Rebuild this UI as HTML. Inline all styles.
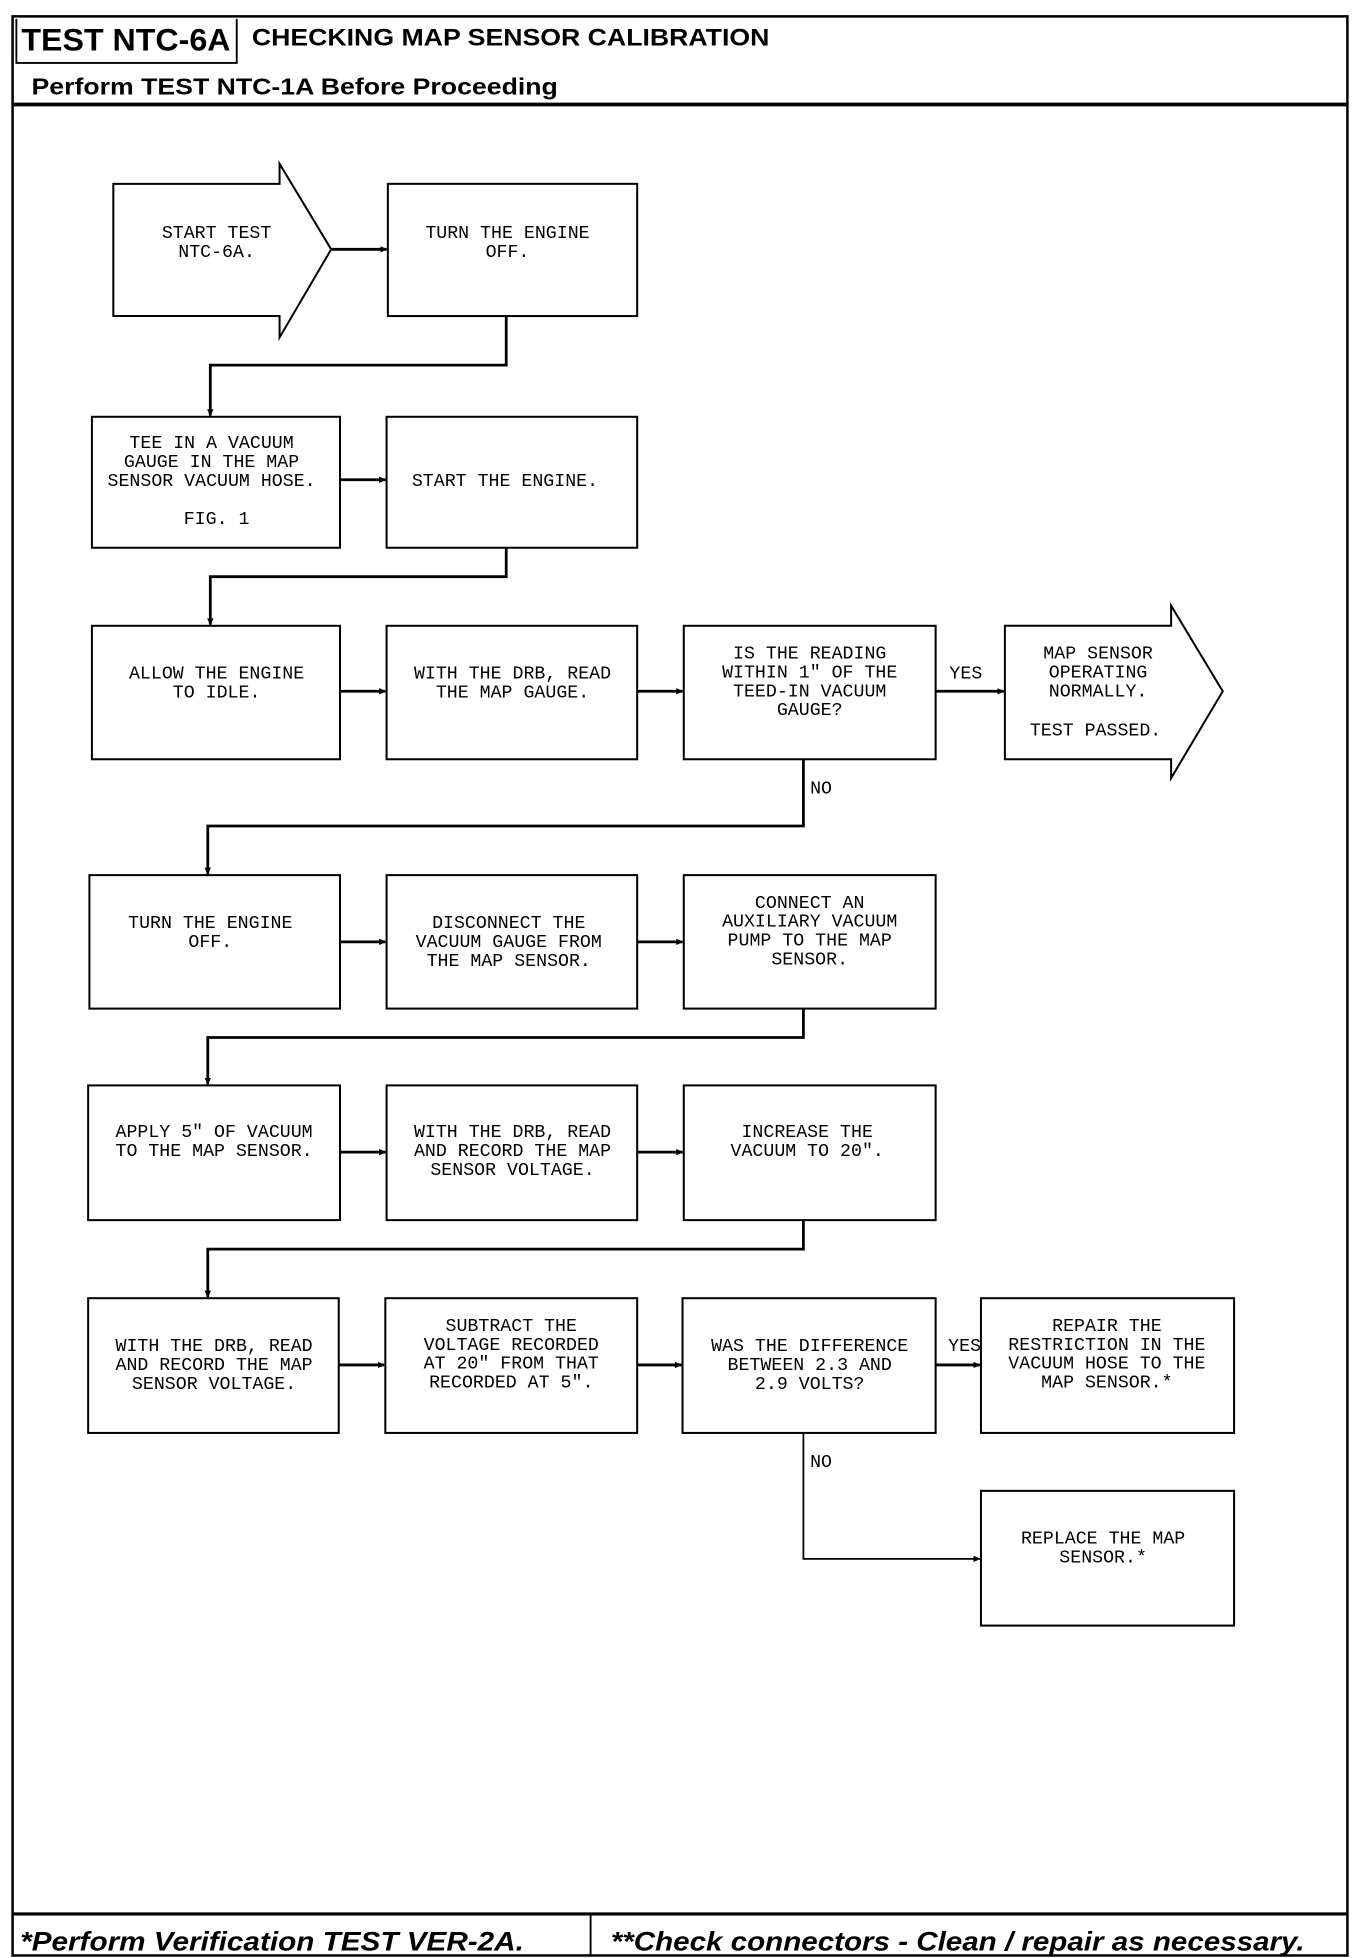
<!DOCTYPE html>
<html><head><meta charset="utf-8"><style>html,body{margin:0;padding:0;background:#fff}svg{display:block}</style></head><body>
<svg width="1360" height="1958" viewBox="0 0 1080 1555" preserveAspectRatio="none" xmlns="http://www.w3.org/2000/svg">
<defs><marker id="a" markerWidth="6" markerHeight="6" refX="5" refY="3" orient="auto" markerUnits="userSpaceOnUse"><path d="M0,0.5 L6,3 L0,5.5z" fill="#000"/></marker></defs>
<rect width="1080" height="1555" fill="#fff"/>
<g fill="none" stroke="#000">
<rect x="10" y="13" width="1060" height="1540" stroke-width="2"/>
<path d="M13,15 V50 H188 V15" stroke-width="1.5"/>
<line x1="10" y1="83" x2="1070" y2="83" stroke-width="3"/>
<line x1="10" y1="1520" x2="1070" y2="1520" stroke-width="2.5"/>
<line x1="469" y1="1520" x2="469" y2="1553" stroke-width="1.5"/>
</g>
<g font-family="Liberation Sans, sans-serif" font-weight="bold" fill="#000">
<text x="17" y="40" font-size="25" textLength="166" lengthAdjust="spacingAndGlyphs">TEST NTC-6A</text>
<text x="200" y="36" font-size="19" textLength="411" lengthAdjust="spacingAndGlyphs">CHECKING MAP SENSOR CALIBRATION</text>
<text x="25" y="75" font-size="18" textLength="418" lengthAdjust="spacingAndGlyphs">Perform TEST NTC-1A Before Proceeding</text>
<text x="16" y="1549" font-size="21" font-style="italic" textLength="400" lengthAdjust="spacingAndGlyphs">*Perform Verification TEST VER-2A.</text>
<text x="485" y="1549" font-size="21" font-style="italic" textLength="551" lengthAdjust="spacingAndGlyphs">**Check connectors - Clean / repair as necessary.</text>
</g>
<g fill="none" stroke="#000" stroke-width="1.6">
<path d="M90,146 H222 V130 L263,198 L222,268 V251 H90 Z"/>
<rect x="308" y="146" width="198" height="105"/>
<rect x="73" y="331" width="197" height="104"/>
<rect x="307" y="331" width="199" height="104"/>
<rect x="73" y="497" width="197" height="106"/>
<rect x="307" y="497" width="199" height="106"/>
<rect x="543" y="497" width="200" height="106"/>
<path d="M798,497 H930 V481 L971,549 L930,618 V603 H798 Z"/>
<rect x="71" y="695" width="199" height="106"/>
<rect x="307" y="695" width="199" height="106"/>
<rect x="543" y="695" width="200" height="106"/>
<rect x="70" y="862" width="200" height="107"/>
<rect x="307" y="862" width="199" height="107"/>
<rect x="543" y="862" width="200" height="107"/>
<rect x="70" y="1031" width="199" height="107"/>
<rect x="306" y="1031" width="200" height="107"/>
<rect x="542" y="1031" width="201" height="107"/>
<rect x="779" y="1031" width="201" height="107"/>
<rect x="779" y="1184" width="201" height="107"/>
</g>
<g fill="none" stroke="#000" stroke-width="2.2" marker-end="url(#a)">
<line x1="263" y1="198" x2="307" y2="198"/>
<path d="M402,251 V290 H167 V330"/>
<line x1="270" y1="381" x2="306" y2="381"/>
<path d="M402,435 V458 H167 V496"/>
<line x1="270" y1="549" x2="306" y2="549"/>
<line x1="506" y1="549" x2="542" y2="549"/>
<line x1="743" y1="549" x2="797" y2="549"/>
<path d="M638,603 V656 H165 V694"/>
<line x1="270" y1="748" x2="306" y2="748"/>
<line x1="506" y1="748" x2="542" y2="748"/>
<path d="M638,801 V824 H165 V861"/>
<line x1="270" y1="915" x2="306" y2="915"/>
<line x1="506" y1="915" x2="542" y2="915"/>
<path d="M638,969 V992 H165 V1030"/>
<line x1="269" y1="1084" x2="305" y2="1084"/>
<line x1="506" y1="1084" x2="541" y2="1084"/>
<line x1="743" y1="1084" x2="778" y2="1084"/>
<path d="M638,1138 V1238 H778" stroke-width="1.4"/>
</g>
<g font-family="Liberation Mono, monospace" font-size="14.5" fill="#000" text-anchor="middle">
<text x="172" y="189">START TEST</text><text x="172" y="204">NTC-6A.</text>
<text x="403" y="189">TURN THE ENGINE</text><text x="403" y="204">OFF.</text>
<text x="168" y="356">TEE IN A VACUUM</text><text x="168" y="371">GAUGE IN THE MAP</text><text x="168" y="386">SENSOR VACUUM HOSE.</text><text x="172" y="416">FIG. 1</text>
<text x="401" y="386">START THE ENGINE.</text>
<text x="172" y="539">ALLOW THE ENGINE</text><text x="172" y="554">TO IDLE.</text>
<text x="407" y="539">WITH THE DRB, READ</text><text x="407" y="554">THE MAP GAUGE.</text>
<text x="643" y="523">IS THE READING</text><text x="643" y="538">WITHIN 1" OF THE</text><text x="643" y="553">TEED-IN VACUUM</text><text x="643" y="568">GAUGE?</text>
<text x="872" y="523">MAP SENSOR</text><text x="872" y="538">OPERATING</text><text x="872" y="553">NORMALLY.</text><text x="870" y="584">TEST PASSED.</text>
<text x="767" y="539">YES</text><text x="652" y="630">NO</text>
<text x="167" y="737">TURN THE ENGINE</text><text x="167" y="752">OFF.</text>
<text x="404" y="737">DISCONNECT THE</text><text x="404" y="752">VACUUM GAUGE FROM</text><text x="404" y="767">THE MAP SENSOR.</text>
<text x="643" y="721">CONNECT AN</text><text x="643" y="736">AUXILIARY VACUUM</text><text x="643" y="751">PUMP TO THE MAP</text><text x="643" y="766">SENSOR.</text>
<text x="170" y="903">APPLY 5" OF VACUUM</text><text x="170" y="918">TO THE MAP SENSOR.</text>
<text x="407" y="903">WITH THE DRB, READ</text><text x="407" y="918">AND RECORD THE MAP</text><text x="407" y="933">SENSOR VOLTAGE.</text>
<text x="641" y="903">INCREASE THE</text><text x="641" y="918">VACUUM TO 20".</text>
<text x="170" y="1073">WITH THE DRB, READ</text><text x="170" y="1088">AND RECORD THE MAP</text><text x="170" y="1103">SENSOR VOLTAGE.</text>
<text x="406" y="1057">SUBTRACT THE</text><text x="406" y="1072">VOLTAGE RECORDED</text><text x="406" y="1087">AT 20" FROM THAT</text><text x="406" y="1102">RECORDED AT 5".</text>
<text x="643" y="1073">WAS THE DIFFERENCE</text><text x="643" y="1088">BETWEEN 2.3 AND</text><text x="643" y="1103">2.9 VOLTS?</text>
<text x="766" y="1073">YES</text><text x="652" y="1165">NO</text>
<text x="879" y="1057">REPAIR THE</text><text x="879" y="1072">RESTRICTION IN THE</text><text x="879" y="1087">VACUUM HOSE TO THE</text><text x="879" y="1102">MAP SENSOR.*</text>
<text x="876" y="1226">REPLACE THE MAP</text><text x="876" y="1241">SENSOR.*</text>
</g>
</svg>
</body></html>
